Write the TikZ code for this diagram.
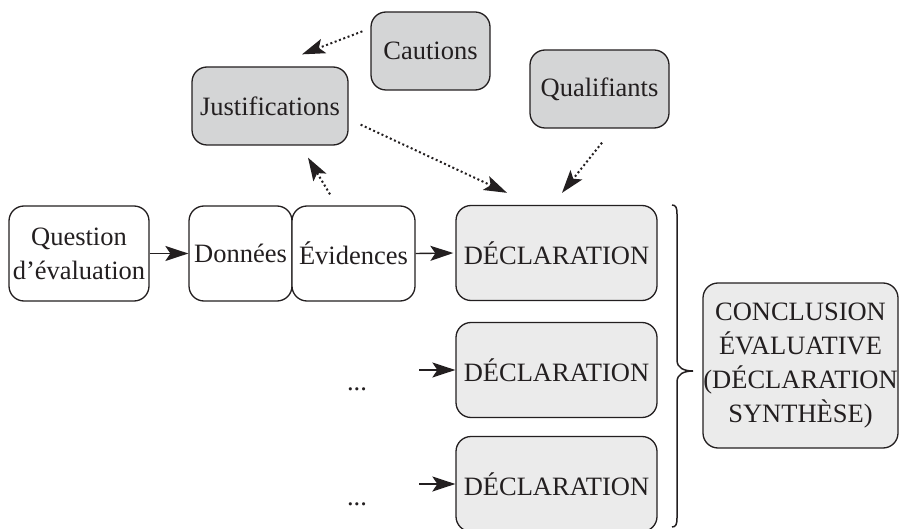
\documentclass[tikz,border=0pt]{standalone}
\usepackage{fontspec}
\setmainfont{Liberation Serif}
\usetikzlibrary{arrows.meta,calc}
\definecolor{txt}{HTML}{231F20}
\definecolor{darkfill}{HTML}{D4D5D6}
\definecolor{lightfill}{HTML}{EBEBEB}
\begin{document}
\begin{tikzpicture}[x=1pt,y=-1pt,
  every node/.style={font=\fontsize{26.5}{34}\selectfont, text=txt},
  box/.style={draw=txt, line width=1.3pt, rounded corners=15pt, inner sep=0pt, align=center},
  topbox/.style={box, fill=darkfill},
  declbox/.style={box, fill=lightfill, minimum width=201pt, minimum height=95pt},
  plainbox/.style={box, fill=white, minimum height=95pt},
  solidarrow/.style={draw=txt, line width=1.4pt, -{Stealth[length=23pt,width=15pt,inset=5pt]}},
  dotarrow/.style={draw=txt, line width=2pt, dash pattern=on 2pt off 2.6pt, -{Stealth[length=23pt,width=15pt,inset=5pt]}}
]
\useasboundingbox (0,0) rectangle (899,529);

% top boxes
\node[topbox, minimum width=119pt, minimum height=78pt] (caut) at (430.5,51) {Cautions};
\node[topbox, minimum width=139pt, minimum height=78pt] (qual) at (599.5,89) {Qualifiants};
\node[topbox, minimum width=156pt, minimum height=78pt] (just) at (270,106) {Justifications};

% row 1
\node[plainbox, minimum width=140pt] (quest) at (79,253.5) {Question\\d’évaluation};
\node[plainbox, minimum width=103pt] (donn) at (240.5,253.5) {Données};
\node[plainbox, minimum width=123pt] (evid) at (353.5,253.5) {Évidences};

% declarations
\node[declbox] (decl1) at (556.5,253) {DÉCLARATION};
\node[declbox] (decl2) at (556.5,370) {DÉCLARATION};
\node[declbox] (decl3) at (556.5,484) {DÉCLARATION};

% conclusion
\node[box, fill=lightfill, minimum width=195pt, minimum height=165pt] (concl) at (800.5,365.5) {CONCLUSION\\ÉVALUATIVE\\(DÉCLARATION\\SYNTHÈSE)};

% dots
\node[anchor=base] (dots1) at (357,390) {...};
\node[anchor=base] (dots2) at (357,505) {...};

% free ends of arrows
\coordinate (s2) at (419,370);
\coordinate (s3) at (419,484);

% solid arrows
\draw[solidarrow] (quest.east) -- (donn.west);
\draw[solidarrow, shorten >=2pt] (evid.east) -- (decl1.west);
\draw[solidarrow] (s2) -- (decl2.west);
\draw[solidarrow] (s3) -- (decl3.west);

% dotted arrows
\draw[dotarrow] ($(caut.north west)+(-8,20)$) -- ($(just.north)+(32,-12)$);
\draw[dotarrow] ($(just.south east)+(12,-21)$) -- ($(decl1.north)+(-49.5,-12)$);
\draw[dotarrow] ($(qual.south)+(2.5,14)$) -- ($(decl1.north)+(5.5,-12)$);
\draw[dotarrow] ($(evid.north)+(-23.5,-11)$) -- ($(just.south)+(38,12)$);

% brace
\coordinate (btop) at (672,205);
\coordinate (bbot) at (672,527);
\coordinate (btip) at (693,371);
\draw[draw=txt, line width=1.5pt]
  (btop) .. controls (676,205) and (677,208) .. (677,214)
  -- (677,360) .. controls (677,368) and (684,371) .. (btip)
  .. controls (684,371) and (677,374) .. (677,382)
  -- (677,518) .. controls (677,524) and (676,527) .. (bbot);
\end{tikzpicture}
\end{document}
